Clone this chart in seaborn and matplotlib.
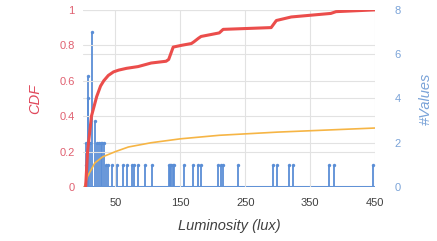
import numpy as np
import pandas as pd
import matplotlib.pyplot as plt
import seaborn as sns

# --- data ---
# red curve: empirical CDF of luminosity
cdf_lux = [4, 7, 13, 21, 27, 32, 39, 47, 55, 67, 85, 105, 128, 132, 136, 139,
           152, 167, 171, 178, 182, 210, 216, 290, 298, 321, 382, 390, 450]
cdf_val = [0.0, 0.2, 0.4, 0.51, 0.57, 0.6, 0.63, 0.65, 0.66, 0.67, 0.68, 0.70,
           0.71, 0.72, 0.76, 0.79, 0.80, 0.81, 0.82, 0.84, 0.85, 0.87, 0.89,
           0.90, 0.94, 0.96, 0.98, 0.99, 1.0]

# orange curve: fitted CDF
fit_lux = [2, 7, 18, 30, 50, 70, 105, 150, 210, 300, 450]
fit_val = [0.0, 0.06, 0.135, 0.17, 0.2, 0.226, 0.25, 0.272, 0.292, 0.31, 0.333]

# blue stems: number of samples per luminosity value
stem_lux = [4, 5, 7, 8, 11, 14, 18, 21, 24, 27, 30, 33, 36,
            39, 45, 52, 62, 68, 75, 78, 85, 95, 107,
            132, 134, 136, 138, 140, 156, 170, 178, 182,
            208, 213, 216, 239, 293, 299, 318, 324, 379, 387, 447]
stem_count = [1, 2, 4, 5, 2, 7, 3, 2, 2, 2, 2, 2, 1,
              1, 1, 1, 1, 1, 1, 1, 1, 1, 1,
              1, 1, 1, 1, 1, 1, 1, 1, 1,
              1, 1, 1, 1, 1, 1, 1, 1, 1, 1, 1]

x_ticks = [50, 150, 250, 350, 450]
cdf_ticks = [0, 0.2, 0.4, 0.6, 0.8, 1]
cdf_labels = ["0", "0.2", "0.4", "0.6", "0.8", "1"]
count_ticks = [0, 2, 4, 6, 8]

RED = "#EB4D4B"
BLUE = "#5A8ED6"
ORANGE = "#F6B545"

sns.set_theme(style="white")
plt.rcParams['font.family'] = ['Liberation Sans', 'DejaVu Sans']

fig = plt.figure(figsize=(4.37, 2.41), dpi=100)
ax = fig.add_axes([0.19, 0.224, 0.668, 0.735])
ax2 = ax.twinx()

# counts on the right axis (drawn behind the CDF curves)
ax2.vlines(stem_lux, 0, stem_count, color=BLUE, linewidth=1.3)
sns.scatterplot(x=stem_lux, y=stem_count, ax=ax2, color=BLUE, s=6,
                edgecolor=BLUE, linewidth=0, legend=False)
ax2.hlines(0, 0, 450, color=BLUE, linewidth=2.2)
ax2.set_ylim(0, 8)
ax2.set_yticks(count_ticks)
ax2.grid(axis='y', color='#E2E2E2', linewidth=0.8)
ax2.set_ylabel("#Values", color="#7AA3D8", style='italic', fontsize=10.5, labelpad=13)

ax.set_zorder(ax2.get_zorder() + 1)
ax.patch.set_visible(False)

sns.lineplot(x=fit_lux, y=fit_val, ax=ax, color=ORANGE, linewidth=1.2)
sns.lineplot(x=cdf_lux, y=cdf_val, ax=ax, color=RED, linewidth=2.2)

ax.set_xlim(0, 450)
ax.set_ylim(0, 1)
ax.set_xticks(x_ticks)
ax.set_yticks(cdf_ticks)
ax.set_yticklabels(cdf_labels)
ax.grid(True, color='#E2E2E2', linewidth=0.8)
ax2.set_axisbelow(True)

ax.set_xlabel("Luminosity (lux)", color="#404040", style='italic', fontsize=10.5, labelpad=8)
ax.set_ylabel("CDF", color="#E0475A", style='italic', fontsize=10.5, labelpad=12)

ax.tick_params(axis='x', length=0, labelsize=8, labelcolor="#404040", pad=8)
ax.tick_params(axis='y', length=0, labelsize=8, labelcolor="#E06070", pad=6)
ax2.tick_params(axis='y', length=0, labelsize=8, labelcolor="#7AA3D8", pad=14)

for a in (ax, ax2):
    for s in a.spines.values():
        s.set_visible(False)

fig.savefig("out.png", dpi=100)
